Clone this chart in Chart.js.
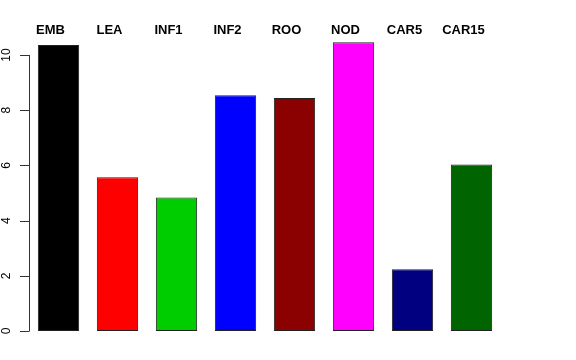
<!DOCTYPE html>
<html>
<head>
<meta charset="utf-8">
<script src="https://cdn.jsdelivr.net/npm/chart.js@4"></script>
<style>
  html, body { margin: 0; padding: 0; background: #fff; }
  #wrap { width: 576px; height: 360px; }
</style>
</head>
<body>
<div id="wrap"><canvas id="barChart" width="576" height="360"></canvas></div>
<script>
// data
const categories = ['EMB', 'LEA', 'INF1', 'INF2', 'ROO', 'NOD', 'CAR5', 'CAR15'];
const values = [10.36, 5.57, 4.84, 8.54, 8.44, 10.46, 2.24, 6.03];
const barColors = ['#000000', '#ff0000', '#00cd00', '#0000ff', '#8b0000', '#ff00ff', '#000080', '#006400'];
const yTicks = [0, 2, 4, 6, 8, 10];

// R-style axis: line only from first to last tick, rotated labels, names on top
const rAxis = {
    id: 'rAxis',
    afterDraw(chart) {
        const ctx = chart.ctx;
        const y = chart.scales.y;
        const x = chart.scales.x;
        const axX = chart.chartArea.left;

        ctx.save();
        ctx.strokeStyle = '#333';
        ctx.lineWidth = 1;
        ctx.beginPath();
        ctx.moveTo(axX + 0.5, y.getPixelForValue(yTicks[0]));
        ctx.lineTo(axX + 0.5, y.getPixelForValue(yTicks[yTicks.length - 1]));
        yTicks.forEach(t => {
            const py = Math.round(y.getPixelForValue(t)) + 0.5;
            ctx.moveTo(axX - 9, py);
            ctx.lineTo(axX + 0.5, py);
        });
        ctx.stroke();

        ctx.fillStyle = '#000';
        ctx.font = '12px "Liberation Sans", Arial, sans-serif';
        ctx.textAlign = 'center';
        ctx.textBaseline = 'alphabetic';
        yTicks.forEach(t => {
            ctx.save();
            ctx.translate(10, y.getPixelForValue(t));
            ctx.rotate(-Math.PI / 2);
            ctx.fillText(String(t), 0, 0);
            ctx.restore();
        });

        // names sit a bit left of the bar centres, as in the original
        ctx.font = 'bold 13px "Liberation Sans", Arial, sans-serif';
        categories.forEach((c, i) => {
            ctx.fillText(c, x.getPixelForValue(i) - 8, 34);
        });
        ctx.restore();
    }
};

new Chart(document.getElementById('barChart'), {
    type: 'bar',
    data: {
        labels: categories,
        datasets: [{
            data: values,
            backgroundColor: barColors,
            borderColor: '#222',
            borderWidth: 1,
            borderSkipped: false,
            categoryPercentage: 1,
            barPercentage: 0.7
        }]
    },
    options: {
        responsive: false,
        animation: false,
        layout: { padding: { left: 29, right: 75, top: 38.4, bottom: 29 } },
        plugins: { legend: { display: false }, tooltip: { enabled: false } },
        scales: {
            x: { display: false },
            y: { display: false, min: 0, max: 10.6 }
        }
    },
    plugins: [rAxis]
});
</script>
</body>
</html>
